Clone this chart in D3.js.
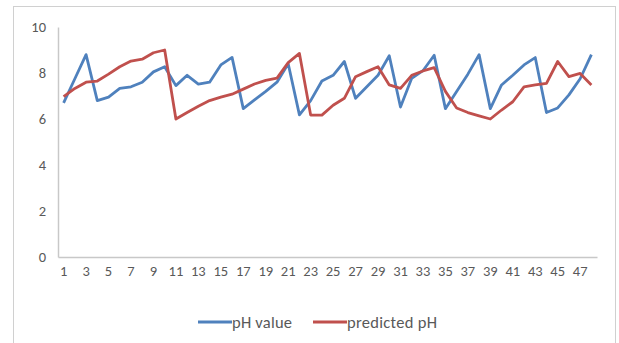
<!DOCTYPE html>
<html>
<head>
<meta charset="utf-8">
<style>
  body { margin: 0; background: #fff; }
  svg text { font-family: Carlito, "Liberation Sans Narrow", "Liberation Sans", sans-serif; fill: #595959; }
</style>
</head>
<body>
<svg id="chart" width="619" height="343"></svg>
<script src="https://d3js.org/d3.v7.min.js"></script>
<script>
  // samples 1..48
  const samples = d3.range(1, 49)
  const phValue = [6.7, 7.75, 8.8, 6.8, 6.95, 7.33, 7.4, 7.6, 8.05, 8.27,
                   7.45, 7.9, 7.52, 7.6, 8.35, 8.68, 6.45, 6.83, 7.2, 7.6,
                   8.4, 6.18, 6.8, 7.65, 7.9, 8.5, 6.9, 7.4, 7.9, 8.75,
                   6.52, 7.77, 8.1, 8.77, 6.45, 7.2, 7.95, 8.8, 6.45, 7.48,
                   7.9, 8.35, 8.67, 6.28, 6.48, 7.05, 7.75, 8.8]
  const predictedPh = [6.97, 7.33, 7.6, 7.65, 7.95, 8.27, 8.52, 8.6, 8.88, 9.0,
                       6.0, 6.28, 6.55, 6.8, 6.95, 7.08, 7.3, 7.52, 7.68, 7.78,
                       8.45, 8.85, 6.17, 6.17, 6.6, 6.9, 7.84, 8.06, 8.27, 7.48,
                       7.33, 7.9, 8.09, 8.23, 7.2, 6.48, 6.28, 6.14, 6.0, 6.39,
                       6.75, 7.4, 7.48, 7.55, 8.5, 7.84, 7.98, 7.48]
  const yTicks = [0, 2, 4, 6, 8, 10]
  const seriesNames = ['pH value', 'predicted pH']
  const seriesColors = ['#4f81bd', '#c0504d']

  const svg = d3.select('#chart')

  // outer chart border
  svg.append('rect')
     .attr('x', 13.5).attr('y', 6.5)
     .attr('width', 602).attr('height', 345)
     .attr('fill', 'none').attr('stroke', '#d0d0d0')

  const xScale = d3.scaleBand()
                   .domain(samples)
                   .range([58, 597])

  const yScale = d3.scaleLinear()
                   .domain([0, 10])
                   .range([257, 27])

  // y axis
  const yAxis = svg.append('g')
                   .attr('transform', 'translate(58,0)')
                   .call(d3.axisLeft(yScale).tickValues(yTicks).tickSize(0).tickPadding(12))
  yAxis.select('.domain').attr('stroke', '#c8c8c8').attr('stroke-width', 1.5)
  yAxis.selectAll('text').attr('font-size', 14.5).attr('fill', '#555')

  // x axis
  const xAxis = svg.append('g')
                   .attr('transform', 'translate(0,257)')
                   .call(d3.axisBottom(xScale)
                           .tickValues(samples.filter(d => d % 2 === 1))
                           .tickSize(0).tickPadding(9))
  xAxis.select('.domain').attr('stroke', '#c8c8c8').attr('stroke-width', 1.5)
  xAxis.selectAll('text').attr('font-size', 14.5).attr('fill', '#555')

  const lineGen = d3.line()
                    .x((d, i) => xScale(samples[i]) + xScale.bandwidth() / 2)
                    .y(d => yScale(d))

  svg.selectAll('.series')
     .data([phValue, predictedPh])
     .join('path')
     .attr('class', 'series')
     .attr('d', lineGen)
     .attr('fill', 'none')
     .attr('stroke', (d, i) => seriesColors[i])
     .attr('stroke-width', 2.8)
     .attr('stroke-linejoin', 'round')

  // legend
  const legendX = [198, 313]
  const legend = svg.selectAll('.legend')
                    .data(seriesNames)
                    .join('g')
                    .attr('class', 'legend')
                    .attr('transform', (d, i) => `translate(${legendX[i]},322)`)
  legend.append('line')
        .attr('x1', 0).attr('x2', 34)
        .attr('stroke', (d, i) => seriesColors[i])
        .attr('stroke-width', 2.8)
  legend.append('text')
        .attr('x', 34).attr('dy', '0.35em')
        .attr('font-size', 16.5)
        .attr('textLength', (d, i) => i === 0 ? 60 : 90)
        .attr('fill', '#555')
        .text(d => d)
</script>
</body>
</html>
